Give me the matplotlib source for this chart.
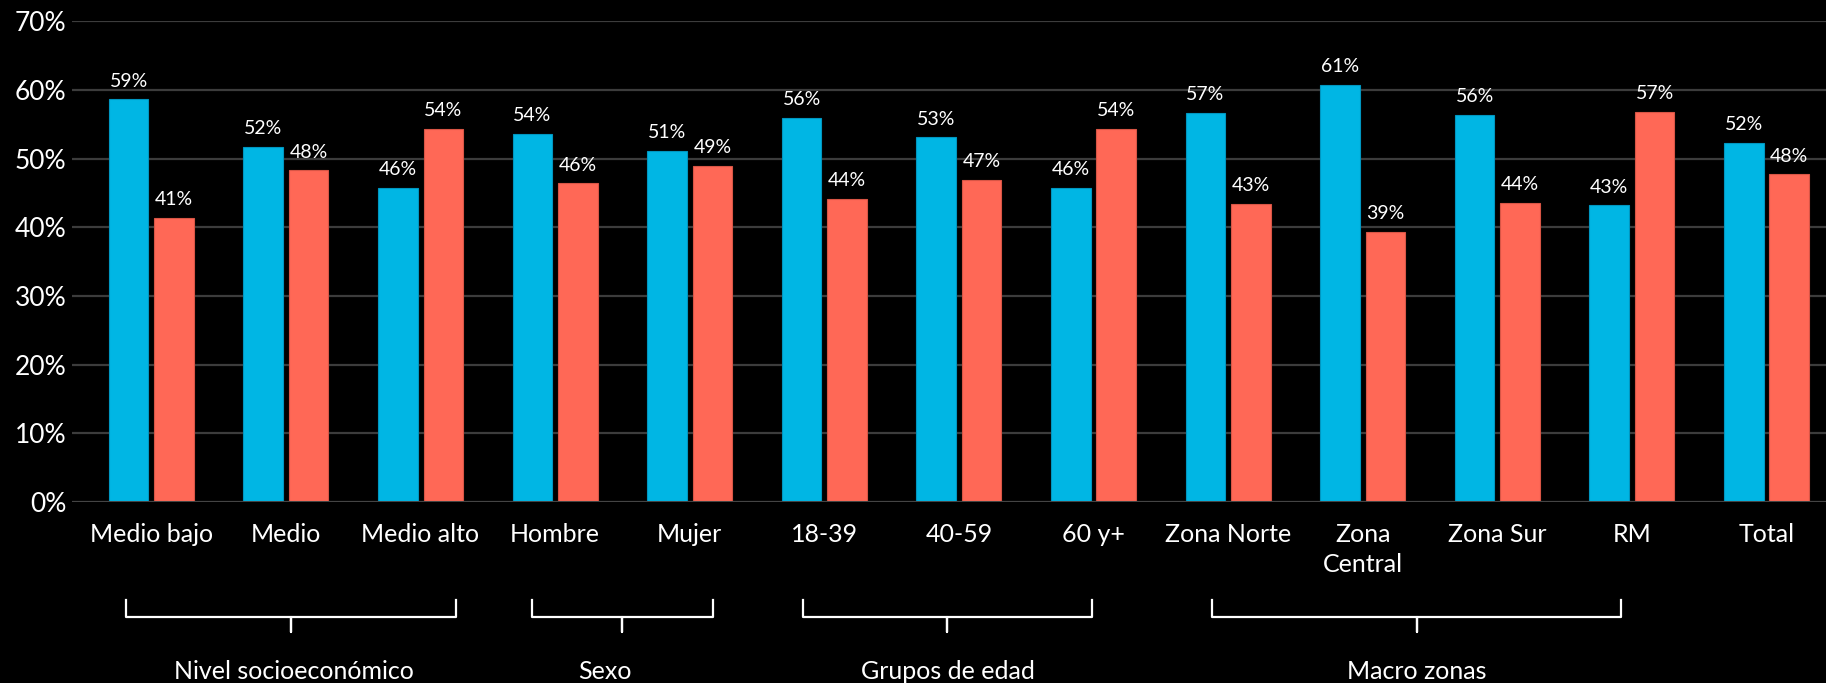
import matplotlib
matplotlib.use("Agg")
import matplotlib.pyplot as plt
import matplotlib.transforms as mtransforms
import numpy as np

categories = ["Medio bajo", "Medio", "Medio alto", "Hombre", "Mujer", "18-39", "40-59",
              "60 y+", "Zona Norte", "Zona\nCentral", "Zona Sur", "RM", "Total"]
serie_azul = [58.6, 51.7, 45.7, 53.6, 51.1, 55.9, 53.1, 45.7, 56.6, 60.7, 56.4, 43.2, 52.3]
serie_roja = [41.4, 48.3, 54.3, 46.4, 48.9, 44.1, 46.9, 54.3, 43.4, 39.3, 43.6, 56.8, 47.7]
y_ticks = [0, 10, 20, 30, 40, 50, 60, 70]
grupos = ["Nivel socioeconómico", "Sexo", "Grupos de edad", "Macro zonas"]
grupo_rango = [(-0.19, 2.26), (2.83, 4.17), (4.84, 6.99), (7.88, 10.92)]
grupo_texto_x = [1.06, 3.37, 5.92, 9.4]

FONT = ["Lato", "DejaVu Sans"]
plt.rcParams["font.family"] = FONT

BLUE = "#00B6E4"
RED = "#FF6856"
BG = "#000000"

fig = plt.figure(figsize=(18.26, 6.83), dpi=100, facecolor=BG)
ax = fig.add_axes([0.0394, 0.265, 1.0109 - 0.0394, 0.969 - 0.265])
ax.set_facecolor(BG)

x = np.arange(len(categories))
w = 0.294
off = 0.169
b1 = ax.bar(x - off, serie_azul, width=w, color=BLUE, edgecolor="#0096c0", linewidth=0.8, zorder=3)
b2 = ax.bar(x + off, serie_roja, width=w, color=RED, edgecolor="#d85545", linewidth=0.8, zorder=3)

for bars, vals in ((b1, serie_azul), (b2, serie_roja)):
    for r, v in zip(bars, vals):
        ax.annotate(f"{int(round(v))}%", (r.get_x() + r.get_width() / 2, r.get_height()),
                    xytext=(0, 7), textcoords="offset points", ha="center", va="bottom",
                    color="white", fontsize=14)

ax.set_ylim(0, 70)
ax.set_xlim(-0.59, 12.59)
ax.set_yticks(y_ticks)
ax.set_yticklabels([f"{t}%" for t in y_ticks], color="white", fontsize=19)
ax.set_xticks(x)
ax.set_xticklabels(categories, color="white", fontsize=18, linespacing=1.4)
ax.tick_params(axis="both", length=0)
ax.tick_params(axis="x", pad=15)
ax.tick_params(axis="y", pad=4)
ax.yaxis.grid(True, color="#3c3c3c", linewidth=1.6, zorder=0)
ax.set_axisbelow(True)
for s in ax.spines.values():
    s.set_visible(False)
ax.axhline(0, color="#444444", linewidth=2.2, zorder=4)

trans = mtransforms.blended_transform_factory(ax.transData, ax.transAxes)
y_top, y_mid, y_tip = -0.204, -0.239, -0.270
for (a, b), name, tx in zip(grupo_rango, grupos, grupo_texto_x):
    c = (a + b) / 2
    ax.plot([a, a, c, c, c, b, b], [y_top, y_mid, y_mid, y_tip, y_mid, y_mid, y_top],
            transform=trans, color="white", linewidth=1.6, clip_on=False,
            solid_joinstyle="round")
    ax.text(tx, -0.352, name, transform=trans, ha="center", va="center",
            color="white", fontsize=18)

fig.savefig("out.png", dpi=100, facecolor=BG)
